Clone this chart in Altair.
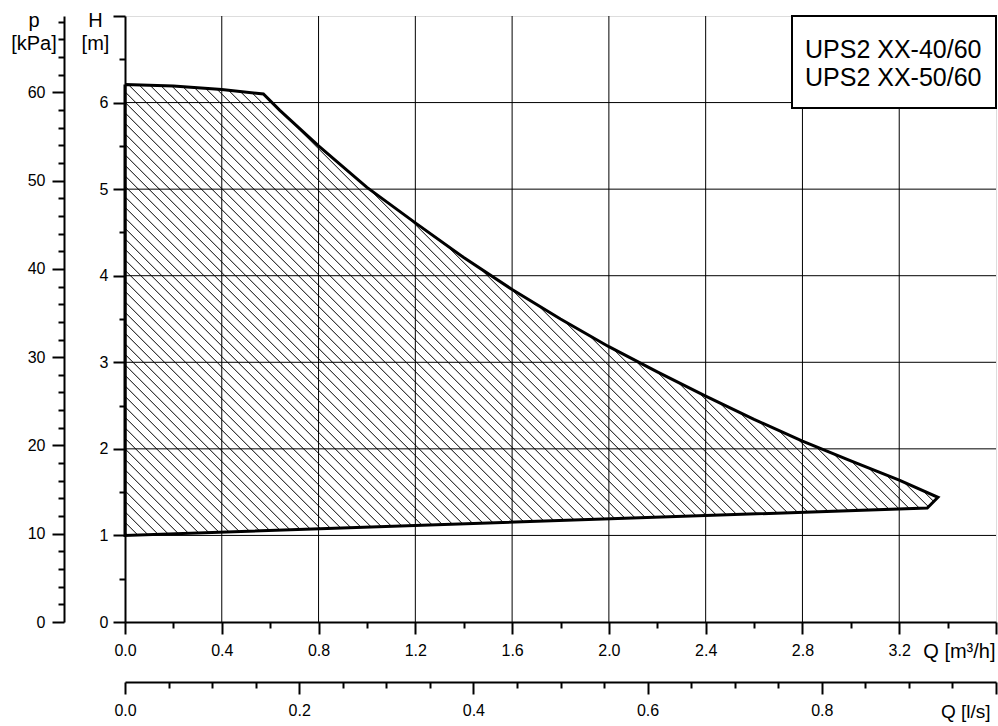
import altair as alt
import pandas as pd
import numpy as np

# ---------------- data ----------------
# upper (max speed) curve, Q [m3/h] -> H [m]
top_q = [0.0, 0.2, 0.4, 0.572, 0.64, 0.8, 1.0, 1.2, 1.4, 1.6, 1.8, 2.0, 2.2, 2.4, 2.6, 2.8, 3.0, 3.2, 3.36]
top_h = [6.21, 6.19, 6.15, 6.10, 5.91, 5.50, 5.02, 4.61, 4.21, 3.84, 3.50, 3.18, 2.89, 2.61, 2.34, 2.09, 1.86, 1.64, 1.44]
# lower (min speed) line, back to Q = 0
bot_q = [3.316, 0.0]
bot_h = [1.317, 1.0]

legend_lines = ["UPS2 XX-40/60", "UPS2 XX-50/60"]

q_ticks = [round(0.2 * i, 1) for i in range(19)]          # m3/h, major every 0.4
q_grid = [0.4, 0.8, 1.2, 1.6, 2.0, 2.4, 2.8, 3.2]
h_ticks = [round(0.5 * i, 1) for i in range(15)]          # m, major every 1
h_grid = [1, 2, 3, 4, 5, 6]
p_ticks = [2 * i for i in range(35)]                       # kPa, major every 10
ls_ticks = [round(0.05 * i, 2) for i in range(21)]        # l/s, major every 0.2

Q_MAX, H_MAX = 3.6, 7.0
P_MAX = H_MAX * 9.80665
LS_MAX = Q_MAX / 3.6

W, PH = 871, 606
FONT = "Liberation Sans"
HATCH = 10.5  # hatch spacing (px, horizontal)

# ---------------- outline polygon ----------------
poly_q = top_q + bot_q
poly_h = top_h + bot_h
outline = pd.DataFrame({
    "Q": poly_q + [poly_q[0]],
    "H": poly_h + [poly_h[0]],
    "i": list(range(len(poly_q) + 1)),
})

# ---------------- hatch lines (45 deg on screen) clipped to polygon ----------------
sx, sy = W / Q_MAX, PH / H_MAX
pts = [(q * sx, h * sy) for q, h in zip(poly_q, poly_h)]
cvals = [u + v for u, v in pts]
segs = {"Q": [], "H": [], "Q2": [], "H2": []}
c = np.floor(min(cvals) / HATCH) * HATCH + HATCH / 2
n = len(pts)
while c < max(cvals):
    hits = []
    for k in range(n):
        (u1, v1), (u2, v2) = pts[k], pts[(k + 1) % n]
        f1, f2 = u1 + v1 - c, u2 + v2 - c
        if (f1 < 0) != (f2 < 0):
            t = f1 / (f1 - f2)
            hits.append((u1 + t * (u2 - u1), v1 + t * (v2 - v1)))
    hits.sort()
    for a, b in zip(hits[0::2], hits[1::2]):
        segs["Q"].append(a[0] / sx)
        segs["H"].append(a[1] / sy)
        segs["Q2"].append(b[0] / sx)
        segs["H2"].append(b[1] / sy)
    c += HATCH
hatch_df = pd.DataFrame(segs)

# ---------------- scales & axes ----------------
xs = alt.Scale(domain=[0, Q_MAX], nice=False, zero=False)
ys = alt.Scale(domain=[0, H_MAX], nice=False, zero=False)

common = dict(
    domainColor="black", domainWidth=2, tickColor="black", tickWidth=2,
    labelColor="black", labelFont=FONT, labelFontSize=16, labelFlush=False,
    labelOverlap=False, titleFont=FONT, titleFontWeight="normal",
    titleColor="black", grid=False, zindex=1, titleAngle=0,
)

h_axis = alt.Axis(
    orient="left", values=h_ticks,
    tickSize={"condition": {"test": "datum.value % 1 !== 0", "value": 6}, "value": 12},
    labelExpr="datum.value % 1 === 0 && datum.value < 7 ? format(datum.value, 'd') : ''",
    labelPadding=5, title=["H", "[m]"], titleX=-30, titleY=10, titleAlign="center",
    titleBaseline="alphabetic", titleLineHeight=23, titleFontSize=20, **common)

p_axis = alt.Axis(
    orient="left", values=p_ticks, offset=61,
    tickSize={"condition": {"test": "datum.value % 10 !== 0", "value": 6}, "value": 12},
    labelExpr="datum.value % 10 === 0 ? format(datum.value, 'd') : ''",
    labelPadding=7, title=["p", "[kPa]"], titleX=-30.5, titleY=10, titleAlign="center",
    titleBaseline="alphabetic", titleLineHeight=23, titleFontSize=20, **common)

q_axis = alt.Axis(
    orient="bottom", values=q_ticks,
    tickSize={"condition": {"test": "abs(datum.value*2.5 - round(datum.value*2.5)) > 1e-6", "value": 6}, "value": 12},
    labelExpr="abs(datum.value*2.5 - round(datum.value*2.5)) < 1e-6 && datum.value < 3.5 ? format(datum.value, '.1f') : ''",
    labelPadding=8, title="Q [m³/h]", titleX=870, titleY=35.5, titleAlign="right",
    titleBaseline="alphabetic", titleFontSize=20, **common)

ls_axis = alt.Axis(
    orient="bottom", values=ls_ticks, offset=60,
    tickSize={"condition": {"test": "abs(datum.value*5 - round(datum.value*5)) > 1e-6", "value": 6}, "value": 12},
    labelExpr="abs(datum.value*5 - round(datum.value*5)) < 1e-6 && datum.value < 0.9 ? format(datum.value, '.1f') : ''",
    labelPadding=8, title="Q [l/s]", titleX=865, titleY=35.5, titleAlign="right",
    titleBaseline="alphabetic", titleFontSize=19, **common)

# ---------------- layers ----------------
grid_v = alt.Chart(pd.DataFrame({"Q": q_grid})).mark_rule(color="black", strokeWidth=1).encode(
    x=alt.X("Q:Q", scale=xs, axis=None))
grid_h = alt.Chart(pd.DataFrame({"H": h_grid})).mark_rule(color="black", strokeWidth=1).encode(
    y=alt.Y("H:Q", scale=ys, axis=None))

hatch = alt.Chart(hatch_df).mark_rule(color="black", strokeWidth=1).encode(
    x=alt.X("Q:Q", scale=xs, axis=None), y=alt.Y("H:Q", scale=ys, axis=None),
    x2="Q2:Q", y2="H2:Q")

curve = alt.Chart(outline).mark_line(color="black", strokeWidth=3, strokeJoin="miter").encode(
    x=alt.X("Q:Q", scale=xs, axis=q_axis),
    y=alt.Y("H:Q", scale=ys, axis=h_axis),
    order="i:Q")

p_layer = alt.Chart(pd.DataFrame({"p": [0, P_MAX]})).mark_point(opacity=0).encode(
    y=alt.Y("p:Q", scale=alt.Scale(domain=[0, P_MAX], nice=False, zero=False), axis=p_axis))

ls_layer = alt.Chart(pd.DataFrame({"ls": [0, LS_MAX]})).mark_point(opacity=0).encode(
    x=alt.X("ls:Q", scale=alt.Scale(domain=[0, LS_MAX], nice=False, zero=False), axis=ls_axis))

box = alt.Chart(pd.DataFrame({"a": [0]})).mark_rect(fill="white", stroke="black", strokeWidth=2).encode(
    x=alt.value(667), x2=alt.value(W), y=alt.value(0), y2=alt.value(92))

label = alt.Chart(pd.DataFrame({"t": ["\n".join(legend_lines)]})).mark_text(
    align="left", baseline="alphabetic", fontSize=25, font=FONT, lineBreak="\n",
    lineHeight=28, color="black").encode(text="t:N", x=alt.value(680), y=alt.value(41.5))

chart = alt.layer(grid_v, grid_h, hatch, curve, p_layer, ls_layer, box, label).resolve_scale(
    x="independent", y="independent"
).properties(
    width=W, height=PH,
    padding={"left": 125, "top": 16, "right": 2, "bottom": 104},
    autosize=alt.AutoSizeParams(type="none"),
    background="white",
).configure_view(stroke="black", strokeWidth=2).configure(font=FONT)

chart.save("out.html", embed_options={"renderer": "svg", "actions": False})
